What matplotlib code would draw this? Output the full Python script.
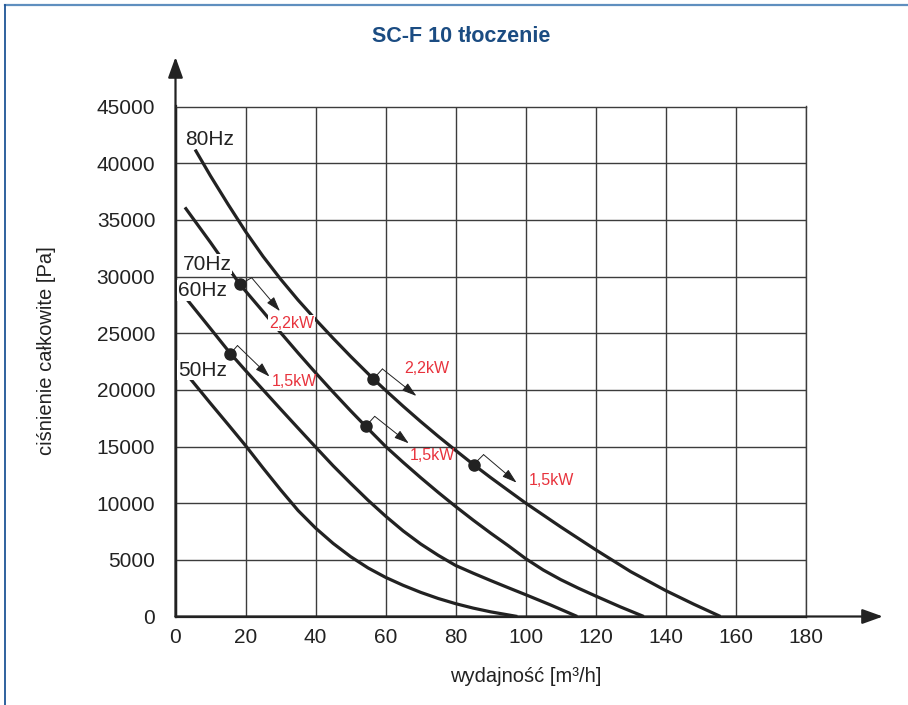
import matplotlib
matplotlib.use('Agg')
import matplotlib.pyplot as plt
from matplotlib.lines import Line2D
from matplotlib.transforms import offset_copy

# ---- data ----
x_80 = [5.6, 10, 15, 20, 25, 30, 35, 40, 45, 50, 56.5, 60, 65, 70, 75, 80, 85.1,
        90, 95, 100, 110, 120, 130, 140, 148, 155.6]
y_80 = [41200, 38870, 36370, 33970, 31770, 29770, 27920, 26200, 24550, 22950, 20960,
        19950, 18550, 17200, 15900, 14650, 13400, 12250, 11120, 10000, 7900, 5880,
        3950, 2280, 1080, 0]

x_70 = [2.7, 10, 18.4, 25, 30, 35, 40, 45, 50, 54.3, 60, 65, 70, 75, 80, 85, 90,
        95, 100, 105, 110, 115, 120, 127, 133.7]
y_70 = [36100, 33000, 29300, 26900, 25050, 23250, 21500, 19800, 18150, 16780, 15000,
        13600, 12250, 10950, 9700, 8500, 7350, 6250, 5100, 4100, 3250, 2500, 1800,
        850, 0]

x_60 = [3.4, 10, 15.7, 20, 25, 30, 35, 40, 45, 50, 55, 60, 65, 70, 75, 80, 85, 90,
        95, 100, 107, 114.7]
y_60 = [27930, 25400, 23200, 21700, 20000, 18300, 16620, 14950, 13300, 11750, 10250,
        8850, 7550, 6400, 5400, 4500, 3820, 3170, 2540, 1920, 1030, 0]

x_50 = [4.3, 10, 15, 20, 25, 30, 35, 40, 45, 50, 55, 60, 65, 70, 75, 80, 85, 90, 97.6]
y_50 = [20950, 18800, 16950, 15080, 13100, 11180, 9350, 7800, 6450, 5280, 4280, 3450,
        2750, 2130, 1590, 1130, 740, 410, 0]

curve_labels = ['80Hz', '70Hz', '60Hz', '50Hz']

# operating points (marker position) and motor power label
point_x = [18.4, 15.7, 56.5, 54.3, 85.1]
point_y = [29300, 23200, 20960, 16780, 13400]
point_power = ['2,2kW', '1,5kW', '2,2kW', '1,5kW', '1,5kW']

x_ticks = list(range(0, 181, 20))
y_ticks = list(range(0, 45001, 5000))

# ---- figure ----
W, H = 908, 705
fig = plt.figure(figsize=(W / 100, H / 100), dpi=100)
ax = fig.add_axes([175.5 / W, 88.5 / H, 630.5 / W, 510 / H])

font = ['Liberation Sans', 'DejaVu Sans']
dark = '#222222'

ax.set_xlim(0, 180)
ax.set_ylim(0, 45000)
ax.set_xticks(x_ticks)
ax.set_yticks(y_ticks)
ax.set_xticklabels([str(v) for v in x_ticks], fontfamily=font, fontsize=15, color=dark)
ax.set_yticklabels([str(v) for v in y_ticks], fontfamily=font, fontsize=15, color=dark)
ax.tick_params(axis='x', length=0, pad=8)
ax.tick_params(axis='y', length=0, pad=14.5)
ax.grid(True, color='#3c3c3c', lw=1.0, zorder=0)
ax.set_axisbelow(True)
for s in ['top', 'right']:
    ax.spines[s].set_color('#3c3c3c')
    ax.spines[s].set_linewidth(1.0)
for s in ['bottom', 'left']:
    ax.spines[s].set_color(dark)
    ax.spines[s].set_linewidth(1.6)

# axis arrows
arrow_kw = dict(arrowstyle='-|>,head_length=1.25,head_width=0.45', lw=1.6,
                color=dark, shrinkA=0, shrinkB=0)
ax.annotate('', xy=(1.122, 0), xycoords='axes fraction', xytext=(0, 0),
            textcoords='axes fraction', arrowprops=arrow_kw)
ax.annotate('', xy=(0, 1.097), xycoords='axes fraction', xytext=(0, 0),
            textcoords='axes fraction', arrowprops=arrow_kw)

# curves
for xs, ys in [(x_80, y_80), (x_70, y_70), (x_60, y_60), (x_50, y_50)]:
    ax.plot(xs, ys, color=dark, lw=2.3, solid_capstyle='butt',
            solid_joinstyle='round', zorder=3)

# curve labels
label_pos = [(2.7, 42130), (2.1, 31100), (0.7, 28770), (0.7, 21750)]
for txt, (lx, ly) in zip(curve_labels, label_pos):
    ax.text(lx, ly, txt, fontfamily=font, fontsize=15, color=dark, ha='left', va='center',
            zorder=4, bbox=dict(facecolor='white', edgecolor='none', pad=0.5))

# operating points with offset arrows (offsets in pixels, y down)
corner_off = [(11.7, -6.7), (7, -8), (9, -10), (9, -10), (10, -10)]
tip_off = [(40, 26.7), (39, 23), (43, 17), (43, 17), (43, 18)]
text_off = [(29, 39), (41, 28), (31, -10), (44, 29), (55, 16)]
text_mask = [True, False, False, False, False]

for i in range(len(point_x)):
    mx, my = point_x[i], point_y[i]
    ctr = offset_copy(ax.transData, fig=fig, x=corner_off[i][0], y=-corner_off[i][1], units='dots')
    ttr = offset_copy(ax.transData, fig=fig, x=tip_off[i][0], y=-tip_off[i][1], units='dots')
    ltr = offset_copy(ax.transData, fig=fig, x=text_off[i][0], y=-text_off[i][1], units='dots')
    ax.annotate('', xy=(mx, my), xycoords=ctr, xytext=(mx, my), textcoords='data',
                arrowprops=dict(arrowstyle='-', lw=0.7, color=dark, shrinkA=0, shrinkB=0),
                zorder=4)
    ax.annotate('', xy=(mx, my), xycoords=ttr, xytext=(mx, my), textcoords=ctr,
                arrowprops=dict(arrowstyle='-|>,head_length=0.9,head_width=0.28', lw=0.7,
                                color=dark, shrinkA=0, shrinkB=0),
                zorder=4)
    ax.plot(mx, my, 'o', color=dark, markersize=8, zorder=6)
    bbox = dict(facecolor='white', edgecolor='none', pad=0.3) if text_mask[i] else None
    ax.text(mx, my, point_power[i], transform=ltr, fontfamily=font, fontsize=11.5,
            color='#e8333d', ha='left', va='center', zorder=5, bbox=bbox)

# titles / axis labels
fig.text(461 / W, 1 - 36 / H, 'SC-F 10 tłoczenie', fontfamily=font, fontsize=15.5,
         fontweight='bold', color='#1b4c82', ha='center', va='center')
fig.text(47 / W, 1 - 351 / H, 'ciśnienie całkowite [Pa]', fontfamily=font, fontsize=14.5,
         color=dark, rotation=90, ha='center', va='center')
fig.text(526 / W, 1 - 676 / H, 'wydajność [m³/h]', fontfamily=font, fontsize=14.5,
         color=dark, ha='center', va='center')

# frame lines (top and left)
fig.add_artist(Line2D([4.5 / W, 1], [1 - 5 / H, 1 - 5 / H], color='#5f8fbf', lw=1.6))
fig.add_artist(Line2D([4.5 / W, 4.5 / W], [0, 1 - 5 / H], color='#1f5596', lw=1.3))

fig.savefig('out.png', dpi=100, facecolor='white')
